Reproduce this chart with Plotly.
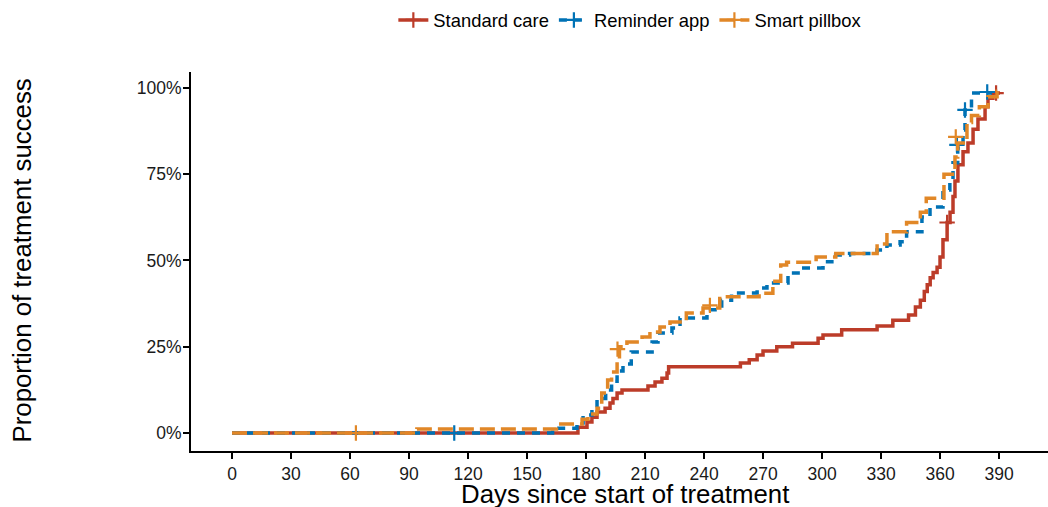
import plotly.graph_objects as go

# ---- data ----
std_days = [0, 175.9, 180.5, 183.0, 185.6, 189.7, 192.2, 193.7, 195.8, 198.3, 211.5, 215.1, 218.6,
            221.2, 222.0, 258.5, 263, 267, 270, 277, 285, 298, 300.5, 310, 328, 336, 344, 347.5,
            350, 352, 353.5, 355, 356.5, 358.5, 360, 361.5, 363.6, 365.1, 366.6, 367.6, 369.1,
            371.7, 374.2, 376.8, 379.3, 382.9, 384.4, 386.9, 390.5]
std_pct = [0, 1.7, 3.2, 4.6, 6.1, 7.2, 8.7, 10.0, 11.6, 12.5, 13.6, 14.8, 15.9,
           17.4, 19.2, 20.3, 21.2, 22.6, 23.8, 25.0, 26.0, 27.5, 28.4, 29.9, 31.0, 32.7, 34.2, 36.5,
           38.5, 41, 43, 45, 46.5, 48, 51, 56, 61, 64, 68.5, 73, 77.7,
           81.5, 84, 88, 91, 94.5, 97, 98.5, 98.5]
std_cens_days = [363.6, 388.5]
std_cens_pct = [61, 98.5]

rem_days = [0, 163, 175.4, 178.5, 183, 185.6, 190, 193, 195.8, 198.8, 203, 213.6, 216.6, 223.7,
            227.8, 241.5, 249, 254, 267, 272, 282.7, 288.8, 300.5, 305, 314, 328, 333, 339.7, 343,
            350.8, 354.9, 361.5, 365, 366.6, 369, 371.7, 372.7, 376, 385.5]
rem_pct = [0, 1.4, 2.9, 5.2, 7.5, 10, 12.5, 15, 18, 20, 23.5, 26.4, 29, 30.4,
           33.3, 35.7, 38.5, 40.6, 42, 43.5, 46.4, 47.8, 49.6, 51.6, 52, 53, 54.5, 55.4, 58.3,
           62.6, 65.5, 70.4, 73.3, 78.3, 82.6, 87.8, 93.6, 98.5, 98.8]
rem_cens_days = [113, 368.6, 372.7, 384]
rem_cens_pct = [0, 83.5, 93.6, 98.8]

pill_days = [0, 94, 165, 178, 181, 185.6, 188, 191, 193, 195.8, 197, 200.8, 208.5, 212.5, 217.6,
             222.7, 231, 239.5, 248, 268, 275, 279, 282, 297, 307, 328, 333, 343, 350, 353,
             362, 367.6, 369, 373.7, 376, 380, 384.4, 389, 390.5]
pill_pct = [0, 1.2, 2.6, 4.0, 5.5, 7.2, 11.6, 15.4, 17.7, 21, 25, 26.4, 27.8, 29.3, 30.7,
            32.2, 34.8, 36.2, 39.5, 40.5, 44, 48.7, 49.5, 51, 52, 54.8, 58.3, 61, 64, 68,
            75, 80, 84, 90, 92, 94.5, 97.4, 99, 99]
pill_cens_days = [63, 196, 243, 368]
pill_cens_pct = [0, 24.3, 37, 85.8]

series = [
    ("Standard care", std_days, std_pct, std_cens_days, std_cens_pct, "#BC3C29", "solid"),
    ("Reminder app", rem_days, rem_pct, rem_cens_days, rem_cens_pct, "#0072B5", "8px,7px"),
    ("Smart pillbox", pill_days, pill_pct, pill_cens_days, pill_cens_pct, "#E18727", "15px,6px"),
]

x_ticks = list(range(0, 391, 30))
y_ticks = [0, 25, 50, 75, 100]
y_ticktext = ["0%", "25%", "50%", "75%", "100%"]

fig = go.Figure()
for name, xd, yd, cx, cy, col, dash in series:
    fig.add_trace(go.Scatter(x=xd, y=yd, mode="lines", line=dict(color=col, width=3.5, dash=dash, shape="hv"),
                             name=name, legendgroup=name, showlegend=False, hoverinfo="skip"))
    fig.add_trace(go.Scatter(x=cx, y=cy, mode="markers",
                             marker=dict(symbol="cross-thin", size=11, line=dict(color=col, width=2.2)),
                             name=name, legendgroup=name, showlegend=False, hoverinfo="skip"))
    fig.add_trace(go.Scatter(x=[None], y=[None], mode="lines+markers",
                             line=dict(color=col, width=3.5, dash=dash),
                             marker=dict(symbol="cross-thin", size=11, line=dict(color=col, width=2.2)),
                             name=name, legendgroup=name, showlegend=True))

axis_common = dict(showgrid=False, zeroline=False, showline=True, linecolor="black", linewidth=2,
                   ticks="outside", ticklen=6, tickwidth=1.8, tickcolor="black",
                   tickfont=dict(size=17.5, color="#1a1a1a"))

fig.update_layout(
    width=1048, height=507,
    margin=dict(l=191, r=0, t=72, b=56),
    plot_bgcolor="white", paper_bgcolor="white",
    font=dict(family="Liberation Sans, Arial, sans-serif", color="black"),
    xaxis=dict(range=[-20.85, 414.9], tickvals=x_ticks, **axis_common),
    yaxis=dict(range=[-5.2, 104.6], tickvals=y_ticks, ticktext=y_ticktext, ticklabelstandoff=-2, **axis_common),
    legend=dict(orientation="h", xref="container", yref="container", x=0.601, y=0.9606,
                xanchor="center", yanchor="middle", font=dict(size=18.4), itemwidth=30,
                bgcolor="rgba(0,0,0,0)"),
    annotations=[
        dict(text="Days since start of treatment", xref="paper", yref="paper", x=0.507, y=-0.113,
             xanchor="center", yanchor="middle", showarrow=False, font=dict(size=25.8)),
        dict(text="Proportion of treatment success", xref="paper", yref="paper", x=-0.1972, y=0.5026,
             xanchor="center", yanchor="middle", showarrow=False, textangle=-90, font=dict(size=25.8)),
    ],
)

fig.write_html("out.html", config={"displayModeBar": False},
               post_script="document.body.style.margin='0px';")
